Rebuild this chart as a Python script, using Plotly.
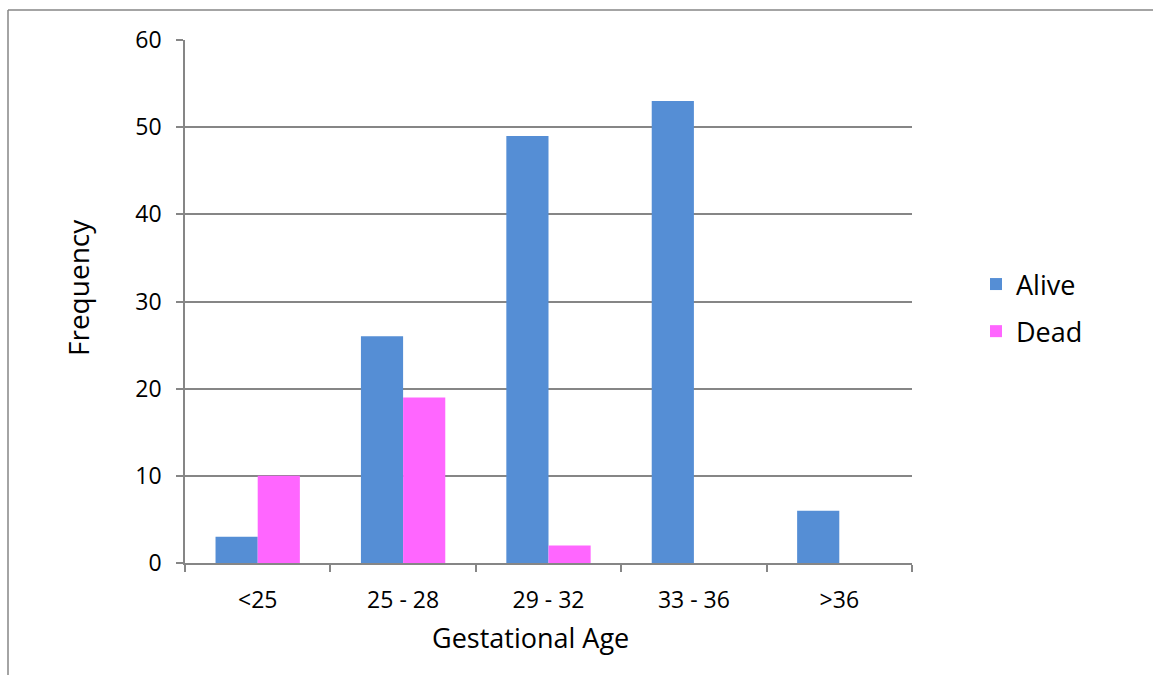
import plotly.graph_objects as go

# Gestational age groups and outcome counts
categories = ["<25", "25 - 28", "29 - 32", "33 - 36", ">36"]
alive = [3, 26, 49, 53, 6]
dead = [10, 19, 2, 0, 0]

W, H = 1153, 675
L, R, T, B = 185, 912, 40, 563  # plot area in pixels

def px_to_paper(x, y):
    return (x - L) / (R - L), (B - y) / (B - T)

FONT = "Open Sans"
GRID = "#868686"

fig = go.Figure()
fig.add_trace(go.Bar(x=categories, y=alive, name="Alive", legendgroup="a",
                     marker=dict(color="#558ED5", line=dict(width=0))))
fig.add_trace(go.Bar(x=categories, y=dead, name="Dead", legendgroup="d",
                     marker=dict(color="#FF66FF", line=dict(width=0))))

# outer chart frame (top and left edges)
x0, y0 = px_to_paper(8, 10)
x1, y1 = px_to_paper(1153, 675)
shapes = [
    dict(type="line", xref="paper", yref="paper", x0=x0, y0=y0, x1=x1, y1=y0,
         line=dict(color=GRID, width=1.5)),
    dict(type="line", xref="paper", yref="paper", x0=x0, y0=y0, x1=x0, y1=y1,
         line=dict(color=GRID, width=1.5)),
]

# axis titles, positioned within the chart area
xt_x, xt_y = px_to_paper(530, 637)
yt_x, yt_y = px_to_paper(78, 288)
annotations = [
    dict(text="Gestational Age", xref="paper", yref="paper", x=xt_x, y=xt_y,
         xanchor="center", yanchor="middle", showarrow=False,
         font=dict(size=27)),
    dict(text="Frequency", xref="paper", yref="paper", x=yt_x, y=yt_y,
         xanchor="center", yanchor="middle", showarrow=False, textangle=-90,
         font=dict(size=28)),
]

lx, ly = px_to_paper(976, 260)

fig.update_layout(
    width=W, height=H,
    margin=dict(l=L, r=W - R, t=T, b=H - B, pad=0),
    paper_bgcolor="white", plot_bgcolor="white",
    barmode="group", bargap=0.42, bargroupgap=0,
    font=dict(family=FONT, size=22, color="black"),
    shapes=shapes,
    annotations=annotations,
    legend=dict(x=lx, y=ly, xanchor="left", yanchor="top",
                font=dict(size=27), traceorder="grouped", tracegroupgap=9),
    xaxis=dict(
        showline=True, linecolor=GRID, linewidth=1.5,
        ticks="outside", ticklen=7, tickcolor=GRID, tickwidth=1.5,
        tickson="boundaries", showgrid=False, ticklabelstandoff=16,
        tickfont=dict(size=23),
    ),
    yaxis=dict(
        range=[0, 60], dtick=10,
        showline=True, linecolor=GRID, linewidth=1.5,
        ticks="outside", ticklen=7, tickcolor=GRID, tickwidth=1.5,
        ticklabelstandoff=10, tickfont=dict(size=23),
        showgrid=True, gridcolor=GRID, gridwidth=1.5,
        zeroline=False,
    ),
)

fig.write_html("out.html")
